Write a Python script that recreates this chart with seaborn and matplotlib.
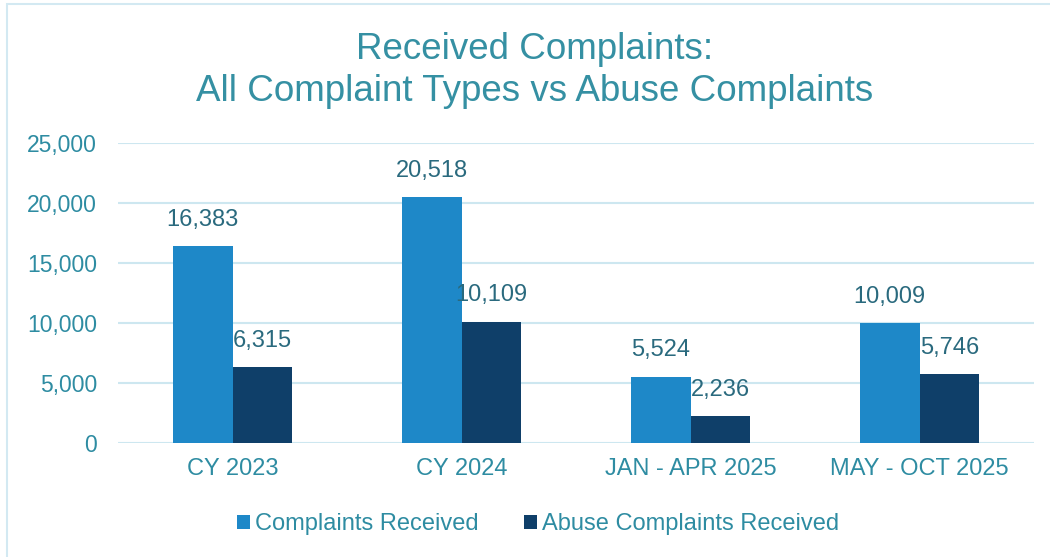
import matplotlib
matplotlib.use("Agg")
import matplotlib.pyplot as plt
import seaborn as sns
import pandas as pd
from matplotlib.patches import Rectangle, Patch

categories = ["CY 2023", "CY 2024", "JAN - APR 2025", "MAY - OCT 2025"]
series_names = ["Complaints Received", "Abuse Complaints Received"]
complaints_received = [16383, 20518, 5524, 10009]
abuse_received = [6315, 10109, 2236, 5746]
y_ticks = [0, 5000, 10000, 15000, 20000, 25000]

df = pd.DataFrame({
    "category": categories * 2,
    "series": [series_names[0]] * 4 + [series_names[1]] * 4,
    "value": complaints_received + abuse_received,
})

sns.set_theme(style="white")
plt.rcParams["font.family"] = ["Liberation Sans", "DejaVu Sans"]

teal = "#2E8CA2"
label_col = "#2A6A7E"
colors = ["#1E88C8", "#0F3F69"]

fig = plt.figure(figsize=(10.5, 5.57), dpi=100)
ax = fig.add_axes([118/1050, 1-443/557, 916/1050, 300/557])

sns.barplot(data=df, x="category", y="value", hue="series", palette=colors,
            width=0.52, saturation=1, ax=ax, legend=False, edgecolor="none")

ax.set_ylim(0, 25000)
ax.set_xlim(-0.5, 3.5)
ax.set_yticks(y_ticks)
ax.set_yticklabels([f"{v:,}" for v in y_ticks])
ax.yaxis.grid(True, color="#CDE7F0", linewidth=1.5)
ax.set_axisbelow(True)
for s in ax.spines.values():
    s.set_visible(False)
ax.tick_params(axis="both", length=0, labelcolor=teal)
ax.tick_params(axis="y", pad=15, labelsize=16.5)
ax.tick_params(axis="x", pad=11, labelsize=17)
ax.set_xlabel("")
ax.set_ylabel("")

for cont in ax.containers:
    ax.bar_label(cont, labels=[f"{v:,.0f}" for v in cont.datavalues],
                 padding=11, fontsize=17, color=label_col)

fig.text(535/1050, 1-70.5/557, "Received Complaints:\nAll Complaint Types vs Abuse Complaints",
         ha="center", va="center", fontsize=26.5, color="#3590A3", linespacing=1.27)

handles = [Patch(facecolor=c, edgecolor="none") for c in colors]
fig.legend(handles, series_names, loc="center", bbox_to_anchor=(538/1050, 1-524/557),
           ncol=2, frameon=False, fontsize=17, labelcolor=teal,
           handlelength=0.55, handleheight=0.55, handletextpad=0.2, columnspacing=1.95)

fig.patches.append(Rectangle((7/1050, -0.1), 1.2, 1-4/557+0.1, transform=fig.transFigure,
                             fill=False, edgecolor="#D3E9F2", linewidth=1.5))

fig.savefig("out.png", dpi=100)
